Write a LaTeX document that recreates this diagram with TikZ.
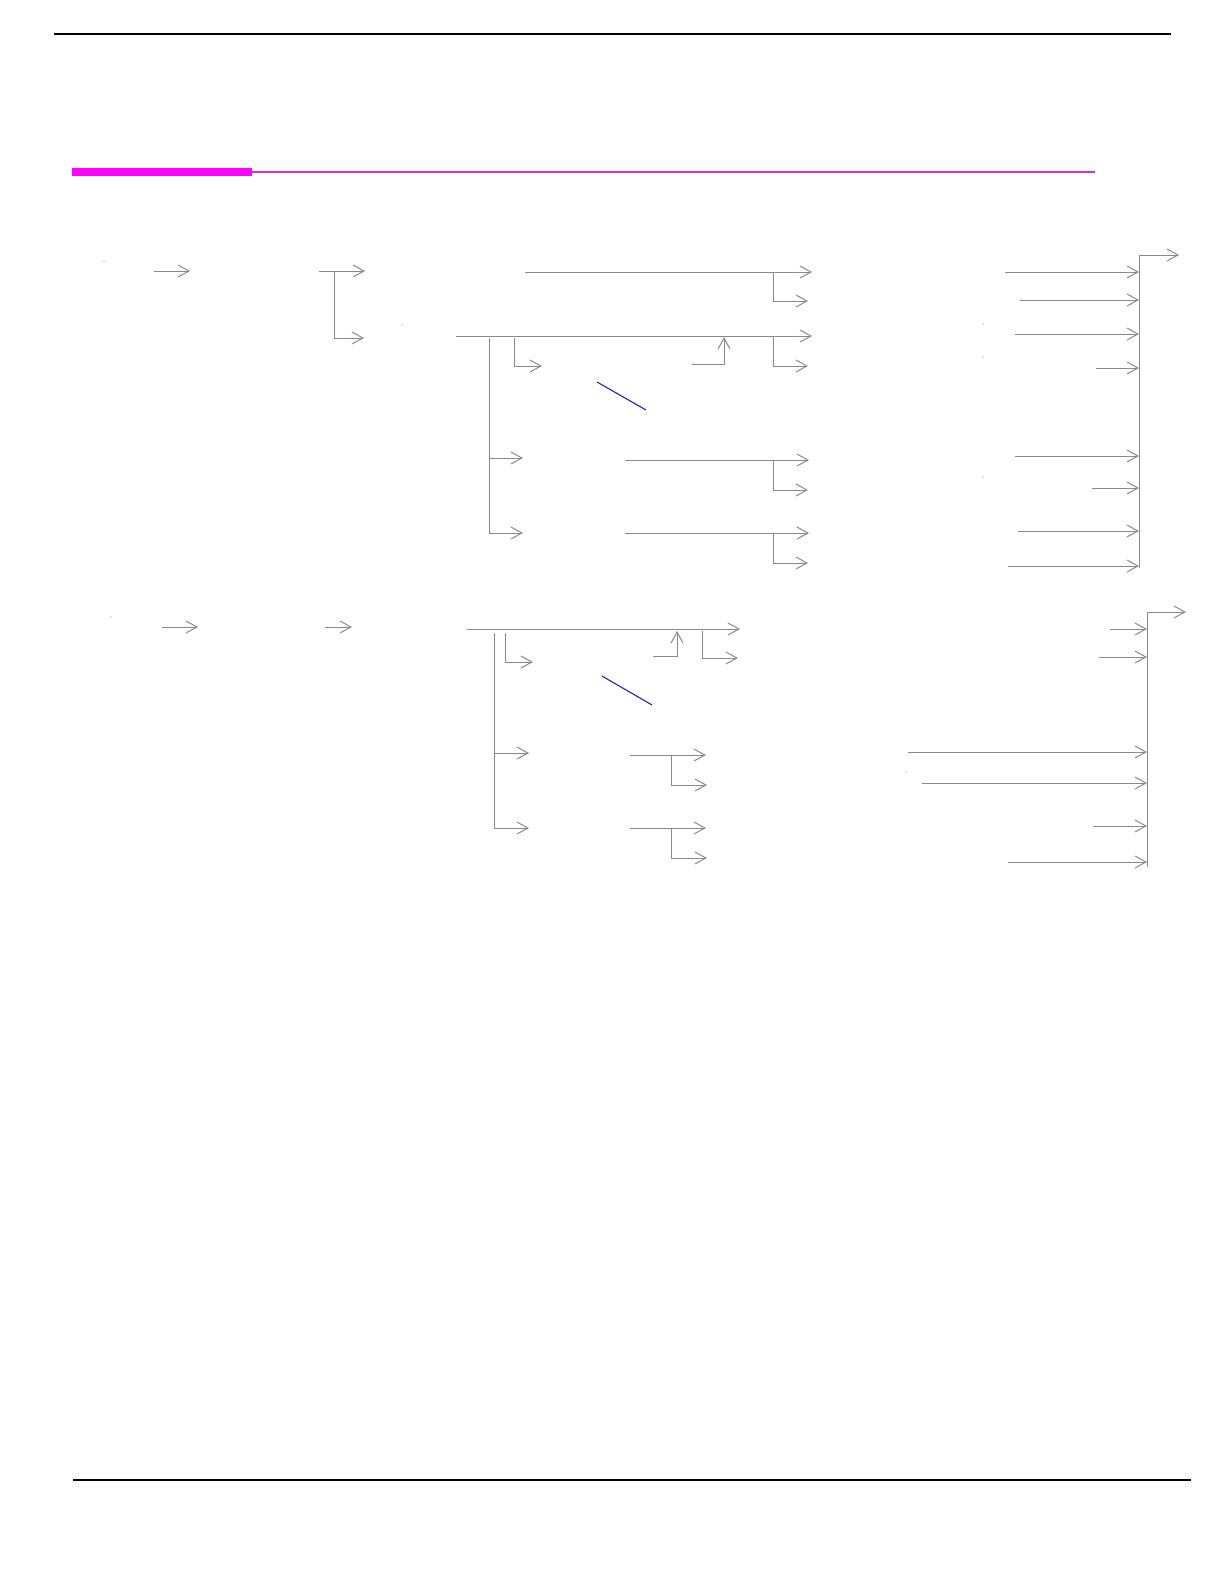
\documentclass[tikz,border=0pt]{standalone}
\usetikzlibrary{arrows.meta}
\definecolor{linegray}{RGB}{138,138,138}
\definecolor{barmag}{RGB}{255,0,255}
\definecolor{thinmag}{RGB}{214,48,214}
\definecolor{slashblue}{RGB}{32,32,200}
\tikzset{
  conn/.style={draw=linegray, line width=1pt},
  arr/.style={conn, -{Straight Barb[length=11pt,width=12pt]}},
  rule/.style={draw=black, line width=1.5pt},
  slash/.style={draw=slashblue, line width=1.1pt},
  speck/.style={fill=linegray, draw=none}
}
\begin{document}
\begin{tikzpicture}[x=1pt,y=-1pt]
\useasboundingbox (0,0) rectangle (1224,1582);
% page rules
\coordinate (tl) at (54,34); \coordinate (tr) at (1171,34);
\coordinate (bl) at (73,1480); \coordinate (br) at (1191,1480);
\draw[rule] (tl) -- (tr);
\draw[rule] (bl) -- (br);
% magenta title bar
\fill[barmag] (72,168) rectangle (252,176);
\coordinate (m1) at (252,172); \coordinate (m2) at (1095,172);
\draw[thinmag, line width=2.4pt] (m1) -- (m2);

% ===== section 1 =====
\fill[speck] (104,261) circle (0.6);
\fill[speck] (402,325) circle (0.6);
\fill[speck] (983,324) circle (0.6);
\fill[speck] (983,357) circle (0.6);
\fill[speck] (983,477) circle (0.6);

\coordinate (a1) at (154,271); \coordinate (a2) at (190,271);
\draw[arr] (a1) -- (a2);
\coordinate (b1) at (319,271); \coordinate (b2) at (365,271);
\draw[arr] (b1) -- (b2);
\draw[arr] (334,271) |- (364,338);

\coordinate (c1) at (525,272); \coordinate (c2) at (812,272);
\draw[arr] (c1) -- (c2);
\draw[arr] (773,272) |- (808,301);

\coordinate (d1) at (456,336); \coordinate (d2) at (812,336);
\draw[arr] (d1) -- (d2);
\draw[arr] (773,336) |- (808,366);
\draw[arr] (514,338) |- (542,366);
\draw[arr] (692,364) -| (724,337);
\draw[arr] (489,338) |- (523,533);
\draw[arr] (489,458) -- (523,458);
\draw[slash] (597,382) -- (646,410);

\coordinate (e1) at (625,460); \coordinate (e2) at (809,460);
\draw[arr] (e1) -- (e2);
\draw[arr] (773,460) |- (808,490);
\coordinate (f1) at (625,533); \coordinate (f2) at (809,533);
\draw[arr] (f1) -- (f2);
\draw[arr] (773,533) |- (808,563);

% right bus 1
\coordinate (busA) at (1139,568); \coordinate (outA) at (1179,255);
\draw[arr] (busA) |- (outA);
\foreach \sx/\sy in {1005/272,1020/300,1015/334,1096/368,1015/456,1092/488,1018/531,1008/566}
  \draw[arr] (\sx,\sy) -- (1139,\sy);

% ===== section 2 =====
\fill[speck] (111,617) circle (0.6);
\fill[speck] (906,772) circle (0.6);

\coordinate (g1) at (162,627); \coordinate (g2) at (198,627);
\draw[arr] (g1) -- (g2);
\coordinate (h1) at (325,627); \coordinate (h2) at (352,627);
\draw[arr] (h1) -- (h2);

\coordinate (i1) at (467,629); \coordinate (i2) at (740,629);
\draw[arr] (i1) -- (i2);
\draw[arr] (494,633) |- (529,828);
\draw[arr] (494,753) -- (529,753);
\draw[arr] (505,633) |- (533,662);
\draw[arr] (653,656) -| (677,631);
\draw[arr] (702,631) |- (738,658);
\draw[slash] (602,676) -- (652,705);

\coordinate (j1) at (630,755); \coordinate (j2) at (706,755);
\draw[arr] (j1) -- (j2);
\draw[arr] (671,755) |- (707,785);
\coordinate (k1) at (630,828); \coordinate (k2) at (706,828);
\draw[arr] (k1) -- (k2);
\draw[arr] (671,828) |- (707,858);

% right bus 2
\coordinate (busB) at (1147,867); \coordinate (outB) at (1186,612);
\draw[arr] (busB) |- (outB);
\foreach \sx/\sy in {1110/629,1099/657,908/752,922/783,1093/826,1008/862}
  \draw[arr] (\sx,\sy) -- (1147,\sy);
\end{tikzpicture}
\end{document}
